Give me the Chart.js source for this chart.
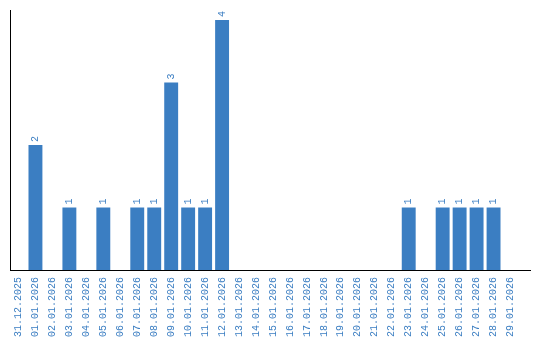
<!DOCTYPE html>
<html>
<head>
<meta charset="utf-8">
<script src="https://cdn.jsdelivr.net/npm/chart.js@4"></script>
<style>
  html, body { margin: 0; padding: 0; background: #fff; }
  #wrap { width: 540px; height: 340px; }
</style>
</head>
<body>
<div id="wrap"><canvas id="myChart"></canvas></div>
<script>
const days = [
    '31.12.2025', '01.01.2026', '02.01.2026', '03.01.2026', '04.01.2026', '05.01.2026',
    '06.01.2026', '07.01.2026', '08.01.2026', '09.01.2026', '10.01.2026', '11.01.2026',
    '12.01.2026', '13.01.2026', '14.01.2026', '15.01.2026', '16.01.2026', '17.01.2026',
    '18.01.2026', '19.01.2026', '20.01.2026', '21.01.2026', '22.01.2026', '23.01.2026',
    '24.01.2026', '25.01.2026', '26.01.2026', '27.01.2026', '28.01.2026', '29.01.2026'
];
const counts = [0, 2, 0, 1, 0, 1, 0, 1, 1, 3, 1, 1, 4, 0, 0, 0, 0, 0, 0, 0, 0, 0, 0, 1, 0, 1, 1, 1, 1, 0];

const blue = '#3b7ec2';
const labelFont = '10px "Liberation Mono", monospace';

// value above each bar, rotated like the axis labels
const valueLabels = {
    id: 'valueLabels',
    afterDatasetsDraw(chart) {
        const ctx = chart.ctx;
        const meta = chart.getDatasetMeta(0);
        ctx.save();
        ctx.fillStyle = blue;
        ctx.font = labelFont;
        ctx.textAlign = 'left';
        ctx.textBaseline = 'middle';
        meta.data.forEach((bar, i) => {
            if (!counts[i]) return;
            ctx.save();
            ctx.translate(bar.x, bar.y - 3);
            ctx.rotate(-Math.PI / 2);
            ctx.fillText(String(counts[i]), 0, 0);
            ctx.restore();
        });
        ctx.restore();
    },
    // x axis line runs a bit past the last category
    afterDraw(chart) {
        const ctx = chart.ctx;
        const a = chart.chartArea;
        const y = Math.round(chart.scales.x.top) + 0.5;
        ctx.save();
        ctx.strokeStyle = '#000';
        ctx.lineWidth = 1;
        ctx.beginPath();
        ctx.moveTo(a.right - 1, y);
        ctx.lineTo(a.right + 12, y);
        ctx.stroke();
        ctx.restore();
    }
};

new Chart(document.getElementById('myChart'), {
    type: 'bar',
    data: {
        labels: days,
        datasets: [{
            data: counts,
            backgroundColor: blue,
            borderWidth: 0,
            categoryPercentage: 1,
            barPercentage: 0.82
        }]
    },
    options: {
        responsive: true,
        maintainAspectRatio: false,
        animation: false,
        layout: { padding: { left: 10, top: 10, right: 21, bottom: 0 } },
        plugins: {
            legend: { display: false },
            tooltip: { enabled: false }
        },
        scales: {
            x: {
                grid: { display: false, drawTicks: false },
                border: { color: '#000', width: 1 },
                afterFit(scale) { scale.height = 70; },
                ticks: {
                    color: blue,
                    font: { family: '"Liberation Mono", monospace', size: 10 },
                    minRotation: 90,
                    maxRotation: 90,
                    autoSkip: false,
                    padding: 7
                }
            },
            y: {
                min: 0,
                max: 4.16,
                grid: { display: false, drawTicks: false },
                border: { color: '#000', width: 1 },
                ticks: { display: false }
            }
        }
    },
    plugins: [valueLabels]
});
</script>
</body>
</html>
